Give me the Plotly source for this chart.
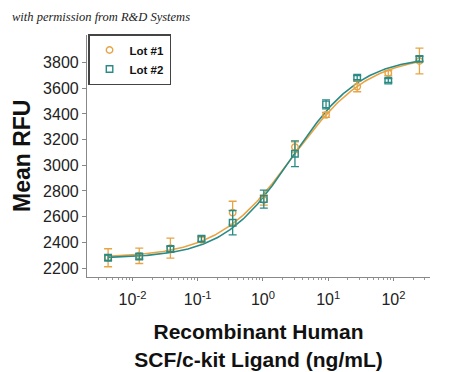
import numpy as np
import plotly.graph_objects as go

conc = [0.00423, 0.0127, 0.0381, 0.114, 0.343, 1.03, 3.09, 9.26, 27.8, 83.3, 250]
lot1 = [2280, 2295, 2355, 2420, 2630, 2730, 3142, 3393, 3613, 3718, 3812]
lot1_err = [70, 60, 78, 20, 90, 40, 40, 20, 40, 20, 100]
lot2 = [2280, 2290, 2348, 2428, 2553, 2737, 3090, 3475, 3683, 3660, 3829]
lot2_err = [20, 20, 20, 20, 95, 70, 100, 35, 15, 15, 20]

# 4PL fit parameters (bottom, top, EC50, hill)
fit1 = dict(bottom=2280, top=3860, ec50=2.9, hill=0.75)
fit2 = dict(bottom=2275, top=3850, ec50=2.8, hill=0.82)

x_ticks = [0.01, 0.1, 1, 10, 100]
x_ticktext = ["10<sup>-2</sup>", "10<sup>-1</sup>", "10<sup>0</sup>", "10<sup>1</sup>", "10<sup>2</sup>"]
y_ticks = [2200, 2400, 2600, 2800, 3000, 3200, 3400, 3600, 3800]

orange = "#E8A444"
teal = "#2A8A85"

def fourpl(x, p):
    x = np.asarray(x)
    return p["bottom"] + (p["top"] - p["bottom"]) / (1 + (p["ec50"] / x) ** p["hill"])

xs = np.logspace(np.log10(conc[0]), np.log10(conc[-1]), 200)

fig = go.Figure()
fig.add_trace(go.Scatter(x=xs, y=fourpl(xs, fit1), mode="lines",
                         line=dict(color=orange, width=1.6), showlegend=False, hoverinfo="skip"))
fig.add_trace(go.Scatter(x=xs, y=fourpl(xs, fit2), mode="lines",
                         line=dict(color=teal, width=1.6), showlegend=False, hoverinfo="skip"))
fig.add_trace(go.Scatter(x=conc, y=lot1, mode="markers", name="<b>Lot #1</b>",
                         marker=dict(symbol="circle-open", size=6.5, color=orange, line=dict(width=1.4)),
                         error_y=dict(type="data", array=lot1_err, color=orange, thickness=1.3, width=4)))
fig.add_trace(go.Scatter(x=conc, y=lot2, mode="markers", name="<b>Lot #2</b>",
                         marker=dict(symbol="square-open", size=6.5, color=teal, line=dict(width=1.4)),
                         error_y=dict(type="data", array=lot2_err, color=teal, thickness=1.3, width=4)))

# page has an 8px body margin, so the figure is sized/offset to compensate
fig.update_layout(
    width=442, height=364,
    margin=dict(l=79, r=20, t=27, b=95, autoexpand=False),
    paper_bgcolor="white", plot_bgcolor="white",
    font=dict(family="Liberation Sans, Arial, sans-serif", color="#222222"),
    showlegend=True,
    legend=dict(x=0.003, y=1.004, xanchor="left", yanchor="top",
                bordercolor="#444444", borderwidth=1.5, bgcolor="white",
                font=dict(size=11.5, color="#111111", family="Liberation Sans, Arial, sans-serif"),
                tracegroupgap=0, itemwidth=30, traceorder="normal"),
    xaxis=dict(type="log", range=[-2.697, 2.56], tickvals=x_ticks, ticktext=x_ticktext,
               automargin=False,
               showgrid=False, zeroline=False, showline=True, linecolor="#888888", linewidth=1.2,
               ticks="outside", ticklen=3, tickcolor="#888888",
               minor=dict(ticks="outside", ticklen=2, tickcolor="#999999", dtick="D1"),
               tickfont=dict(size=16, color="#222222"), ticklabelstandoff=5,
               title=dict(text="<b>Recombinant Human<br>SCF/c-kit Ligand (ng/mL)</b>",
                          font=dict(size=21, color="#111111"), standoff=17)),
    yaxis=dict(range=[2130, 4015], tickvals=y_ticks, automargin=False,
               showgrid=False, zeroline=False, showline=True, linecolor="#888888", linewidth=1.2,
               ticks="outside", ticklen=4, tickcolor="#888888",
               tickfont=dict(size=16, color="#222222")),
    annotations=[
        dict(text="<i>with permission from R&amp;D Systems</i>", xref="paper", yref="paper",
             x=-77/343, y=1 + 18/242, xanchor="left", yanchor="middle", showarrow=False,
             font=dict(family="Liberation Serif, serif", size=12.5, color="#222222")),
        dict(text="<b>Mean RFU</b>", xref="paper", yref="paper",
             x=-65/343, y=0.5, xanchor="center", yanchor="middle", showarrow=False,
             textangle=-90, font=dict(size=23, color="#111111")),
    ],
)

fig.write_html("out.html")
